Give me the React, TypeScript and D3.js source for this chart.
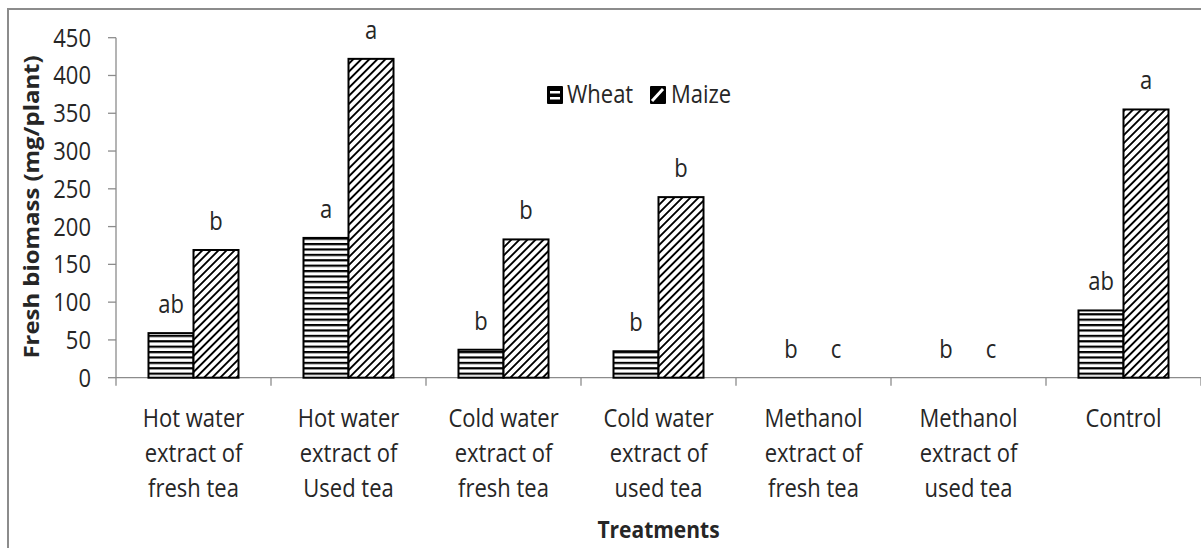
import React from "react";
import * as d3 from "d3";

const categories: string[][] = [
  ["Hot water", "extract of", "fresh tea"],
  ["Hot water", "extract of", "Used tea"],
  ["Cold water", "extract of", "fresh tea"],
  ["Cold water", "extract of", "used tea"],
  ["Methanol", "extract of", "fresh tea"],
  ["Methanol", "extract of", "used tea"],
  ["Control"],
];
const seriesNames = ["Wheat", "Maize"];
const wheat = [59, 185, 37, 35, 0, 0, 89];
const maize = [169, 422, 183, 239, 0, 0, 355];
const wheatLetters = ["ab", "a", "b", "b", "b", "b", "ab"];
const maizeLetters = ["b", "a", "b", "b", "c", "c", "a"];
const yTicks = [0, 50, 100, 150, 200, 250, 300, 350, 400, 450];

const W = 1201;
const H = 548;
const left = 116;
const right = 1201;
const top = 37.7;
const bottom = 377.7;
const SY = 1.14;
const FONT = "'Open Sans', sans-serif";
const TXT = "#262626";
const AX = "#8c8c8c";

function T({ x, y, children, anchor = "middle", size = 22, weight = 400 }: any) {
  return (
    <text
      transform={`translate(${x},${y}) scale(1,${SY})`}
      textAnchor={anchor}
      fontFamily={FONT}
      fontSize={size}
      fontWeight={weight}
      fill={TXT}
    >
      {children}
    </text>
  );
}

export default function App() {
  const x = d3.scaleBand<number>().domain(d3.range(categories.length)).range([left, right]).padding(0);
  const bw = x.bandwidth();
  const xs = d3.scaleBand<string>().domain(seriesNames).range([0, bw]).paddingInner(0).paddingOuter(0.722);
  const y = d3.scaleLinear().domain([0, 450]).range([bottom, top]);
  const data = [wheat, maize];
  const letters = [wheatLetters, maizeLetters];
  const fills = ["url(#hstripe)", "url(#dstripe)"];

  return (
    <svg width={W} height={H} style={{ position: "absolute", left: 0, top: 0, background: "#fff" }}>
      <defs>
        <pattern id="hstripe" width="10" height="5.4" patternUnits="userSpaceOnUse">
          <rect width="10" height="5.4" fill="#fff" />
          <rect y="0" width="10" height="2.2" fill="#000" />
        </pattern>
        <pattern id="dstripe" width="5.7" height="10" patternUnits="userSpaceOnUse" patternTransform="rotate(45)">
          <rect width="5.7" height="10" fill="#fff" />
          <rect x="0" width="1.9" height="10" fill="#000" />
        </pattern>
      </defs>
      <rect x={0} y={0} width={W} height={H} fill="#fff" />
      <rect x={8} y={9} width={1220} height={600} fill="none" stroke={AX} strokeWidth={2} />

      {/* y axis */}
      <line x1={left} x2={left} y1={top} y2={bottom + 8} stroke={AX} strokeWidth={1.3} />
      {yTicks.map((t) => (
        <g key={t}>
          <line x1={left - 8} x2={left} y1={y(t)} y2={y(t)} stroke={AX} strokeWidth={1.3} />
          <T x={91} y={y(t) + 9} anchor="end">
            {t}
          </T>
        </g>
      ))}

      {/* x axis */}
      <line x1={left} x2={right} y1={bottom} y2={bottom} stroke={AX} strokeWidth={1.3} />
      {categories.map((_, i) => (
        <line key={i} x1={(x(i) as number) + bw} x2={(x(i) as number) + bw} y1={bottom} y2={bottom + 8} stroke={AX} strokeWidth={1.3} />
      ))}

      {/* bars */}
      {categories.map((_, i) =>
        seriesNames.map((s, k) => {
          const v = data[k][i];
          const bx = (x(i) as number) + (xs(s) as number);
          const w = xs.bandwidth();
          return (
            <g key={`${i}-${k}`}>
              {v > 0 && (
                <rect x={bx} y={y(v)} width={w} height={y(0) - y(v)} fill={fills[k]} stroke="#000" strokeWidth={2} />
              )}
              <T x={bx + w / 2} y={y(v) - 20}>
                {letters[k][i]}
              </T>
            </g>
          );
        })
      )}

      {/* category labels */}
      {categories.map((lines, i) =>
        lines.map((ln, j) => (
          <T key={`${i}-${j}`} x={(x(i) as number) + bw / 2} y={427 + j * 35}>
            {ln}
          </T>
        ))
      )}

      {/* axis titles */}
      <T x={(left + right) / 2} y={538} size={21} weight={700}>
        Treatments
      </T>
      <text
        transform={`translate(39,${(53 + 361) / 2}) rotate(-90) scale(${SY},1)`}
        textAnchor="middle"
        fontFamily={FONT}
        fontSize={21}
        fontWeight={700}
        fill={TXT}
      >
        Fresh biomass (mg/plant)
      </text>

      {/* legend */}
      <g>
        <rect x={547} y={86} width={16} height={18} fill="#000" rx={1} />
        <rect x={550} y={91} width={10} height={2.5} fill="#fff" />
        <rect x={550} y={97} width={10} height={2.5} fill="#fff" />
        <T x={567} y={103} anchor="start">
          {seriesNames[0]}
        </T>
        <rect x={650} y={86} width={16} height={18} fill="#000" rx={1} />
        <line x1={652} y1={101} x2={663} y2={89} stroke="#fff" strokeWidth={3} />
        <T x={671} y={103} anchor="start">
          {seriesNames[1]}
        </T>
      </g>
    </svg>
  );
}
